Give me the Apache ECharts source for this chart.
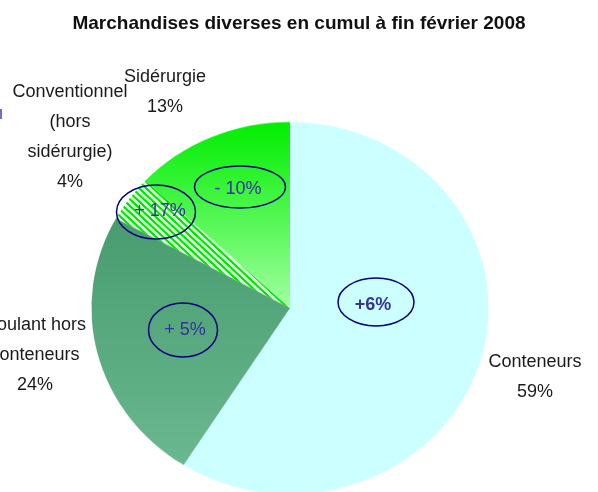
<!DOCTYPE html>
<html>
<head>
<meta charset="utf-8">
<script src="https://cdn.jsdelivr.net/npm/echarts@6/dist/echarts.min.js"></script>
<style>
  html, body { margin: 0; padding: 0; background: #fff; }
  #wrap { position: relative; width: 598px; height: 492px; overflow: hidden; }
  /* the original pie is a bit flattened, so squeeze the pie layer vertically */
  #pie { position: absolute; left: 0; top: 0; width: 598px; height: 560px;
         transform: scaleY(0.937); transform-origin: 290px 308px; }
  #overlay { position: absolute; left: 0; top: 0; width: 598px; height: 492px; }
</style>
</head>
<body>
<div id="wrap">
  <div id="pie"></div>
  <div id="overlay"></div>
</div>
<script>
// données
const categories = ['Conteneurs', 'Roulant hors conteneurs', 'Conventionnel (hors sidérurgie)', 'Sidérurgie']
const labelNames = ['Conteneurs', 'Roulant hors\nconteneurs', 'Conventionnel\n(hors\nsidérurgie)', 'Sidérurgie']
const shares = [59, 24, 4, 13]
const evolutions = ['+6%', '+ 5%', '+ 17%', '- 10%']

// placement des étiquettes et des bulles (x centre, y haut)
const labelPos = [[535, 347], [35, 310], [70, 77], [165, 62]]
const bubblePos = [
  { cx: 376, cy: 302, rx: 38, ry: 24, tx: 373, ty: 305, bold: true },
  { cx: 183, cy: 330, rx: 34.5, ry: 27, tx: 185, ty: 330, bold: false },
  { cx: 156, cy: 212, rx: 39.5, ry: 27, tx: 160, ty: 211, bold: false },
  { cx: 240, cy: 187, rx: 45.5, ry: 21, tx: 238, ty: 189, bold: false }
]

// motif hachuré pour le conventionnel
function makeHatch () {
  const n = 7
  const c = document.createElement('canvas')
  c.width = n
  c.height = n
  const ctx = c.getContext('2d')
  for (let y = 0; y < n; y++) {
    for (let x = 0; x < n; x++) {
      const k = ((x - y) % n + n) % n
      ctx.fillStyle = k < 3 ? '#00e600' : '#d4ffd4'
      ctx.fillRect(x, y, 1, 1)
    }
  }
  return c
}

const sliceColors = [
  '#ccffff',
  new echarts.graphic.LinearGradient(0, 0, 0, 1, [
    { offset: 0, color: '#489c6f' },
    { offset: 1, color: '#6ab890' }
  ]),
  { image: makeHatch(), repeat: 'repeat' },
  new echarts.graphic.LinearGradient(0, 0, 0, 1, [
    { offset: 0, color: '#00ee00' },
    { offset: 1, color: '#a2ffa2' }
  ])
]

const pieChart = echarts.init(document.getElementById('pie'), null, { renderer: 'canvas' })
pieChart.setOption({
  animation: false,
  series: [{
    type: 'pie',
    center: [290, 308],
    radius: 198.5,
    startAngle: 90,
    clockwise: true,
    silent: true,
    label: { show: false },
    labelLine: { show: false },
    itemStyle: { borderWidth: 0 },
    data: categories.map((name, i) => ({
      name: name,
      value: shares[i],
      itemStyle: { color: sliceColors[i] }
    }))
  }]
})

// titre, étiquettes et bulles d'évolution
const graphics = []
categories.forEach((name, i) => {
  graphics.push({
    type: 'text',
    silent: true,
    style: {
      text: labelNames[i] + '\n' + shares[i] + '%',
      x: labelPos[i][0],
      y: labelPos[i][1],
      align: 'center',
      verticalAlign: 'top',
      lineHeight: 30,
      font: '18px "Liberation Sans", Arial, sans-serif',
      fill: '#1a1a1a'
    }
  })
  const b = bubblePos[i]
  graphics.push({
    type: 'ellipse',
    silent: true,
    shape: { cx: b.cx, cy: b.cy, rx: b.rx, ry: b.ry },
    style: { fill: 'none', stroke: '#000080', lineWidth: 1.5 }
  })
  graphics.push({
    type: 'text',
    silent: true,
    style: {
      text: evolutions[i],
      x: b.tx,
      y: b.ty,
      align: 'center',
      verticalAlign: 'middle',
      font: (b.bold ? 'bold ' : '') + '18px "Liberation Sans", Arial, sans-serif',
      fill: '#333399'
    }
  })
})
// petit trait bleu coupé au bord gauche
graphics.push({
  type: 'rect',
  silent: true,
  shape: { x: 0, y: 109, width: 2, height: 10 },
  style: { fill: '#7070c0' }
})

const overlay = echarts.init(document.getElementById('overlay'), null, { renderer: 'canvas' })
overlay.setOption({
  animation: false,
  title: {
    text: 'Marchandises diverses en cumul à fin février 2008',
    left: 'center',
    top: 9,
    textStyle: {
      fontFamily: '"Liberation Sans", Arial, sans-serif',
      fontSize: 19,
      fontWeight: 'bold',
      color: '#111'
    }
  },
  graphic: graphics
})
</script>
</body>
</html>
